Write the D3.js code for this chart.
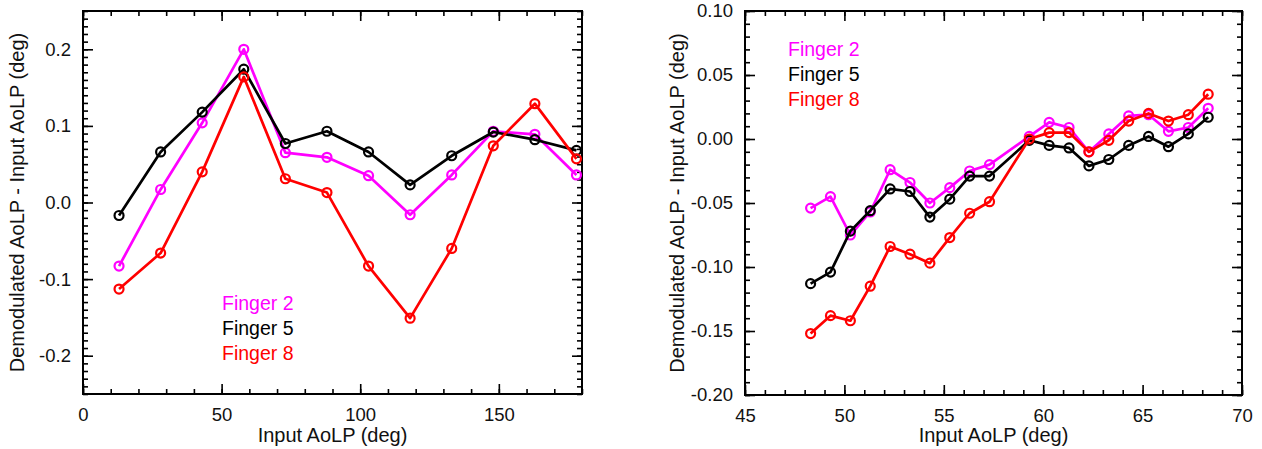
<!DOCTYPE html>
<html>
<head>
<meta charset="utf-8">
<script src="https://cdn.jsdelivr.net/npm/d3@7"></script>
<style>
  body { margin: 0; background: #fff; }
  svg { display: block; font-family: "Liberation Sans", Arial, Helvetica, sans-serif; }
  .tick text { fill: #111; }
</style>
</head>
<body>
<svg id="chart" width="1262" height="449"></svg>
<script>
// left panel : full range of input AoLP
const leftX = [13, 28, 43, 58, 73, 88, 103, 118, 133, 148, 163, 178]
const leftF2 = [-0.083, 0.017, 0.104, 0.200, 0.065, 0.059, 0.035, -0.016, 0.036, 0.093, 0.089, 0.036]
const leftF5 = [-0.017, 0.066, 0.118, 0.174, 0.077, 0.093, 0.066, 0.023, 0.061, 0.092, 0.082, 0.068]
const leftF8 = [-0.113, -0.066, 0.040, 0.164, 0.031, 0.013, -0.083, -0.151, -0.060, 0.074, 0.129, 0.057]
const leftXTicks = [0, 50, 100, 150]
const leftYTicks = [-0.2, -0.1, 0.0, 0.1, 0.2]

// right panel : zoom around 60 deg
const rightX = [48.3, 49.3, 50.3, 51.3, 52.3, 53.3, 54.3, 55.3, 56.3, 57.3,
                59.3, 60.3, 61.3, 62.3, 63.3, 64.3, 65.3, 66.3, 67.3, 68.3]
const rightF2 = [-0.054, -0.045, -0.075, -0.057, -0.024, -0.034, -0.050, -0.038, -0.025, -0.020,
                 0.002, 0.013, 0.009, -0.010, 0.004, 0.018, 0.019, 0.006, 0.009, 0.024]
const rightF5 = [-0.113, -0.104, -0.072, -0.056, -0.039, -0.041, -0.061, -0.047, -0.029, -0.029,
                 -0.001, -0.005, -0.007, -0.021, -0.016, -0.005, 0.002, -0.006, 0.004, 0.017]
const rightF8 = [-0.152, -0.138, -0.142, -0.115, -0.084, -0.090, -0.097, -0.077, -0.058, -0.049,
                 0.000, 0.005, 0.005, -0.010, -0.001, 0.014, 0.020, 0.014, 0.019, 0.035]
const rightXTicks = [45, 50, 55, 60, 65, 70]
const rightYTicks = [-0.20, -0.15, -0.10, -0.05, 0.00, 0.05, 0.10]

const names = ["Finger 2", "Finger 5", "Finger 8"]
const colors = ["#ff00ff", "#000000", "#ff0000"]

const svg = d3.select("#chart")

function drawPanel(p) {
    let x = d3.scaleLinear().domain(p.xDom).range([p.x0, p.x1])
    let y = d3.scaleLinear().domain(p.yDom).range([p.y1, p.y0])
    let g = svg.append("g")

    let xMinor = d3.range(p.xDom[0], p.xDom[1] + 1e-9, p.xStep).map(v => +v.toFixed(4))
    let yMinor = d3.range(p.yDom[0], p.yDom[1] + 1e-9, p.yStep).map(v => +v.toFixed(4))

    // ticks on all four sides, pointing inward, labels only bottom and left
    const sides = [
        [d3.axisBottom, `translate(0,${p.y1})`, false, true],
        [d3.axisTop, `translate(0,${p.y0})`, false, false],
        [d3.axisLeft, `translate(${p.x0},0)`, true, true],
        [d3.axisRight, `translate(${p.x1},0)`, true, false]
    ]
    sides.forEach(([mk, tr, vert, labelled]) => {
        let sc = vert ? y : x
        g.append("g").attr("transform", tr)
            .call(mk(sc).tickValues(vert ? yMinor : xMinor).tickSize(-5).tickFormat(""))
        let fmt = labelled ? (vert ? (d => d.toFixed(p.yDec)) : (d => d)) : ""
        g.append("g").attr("transform", tr)
            .call(mk(sc).tickValues(vert ? p.yTicks : p.xTicks).tickSize(-10)
                .tickPadding(vert ? 12 : 14).tickFormat(fmt))
    })
    g.selectAll(".domain").remove()
    g.selectAll(".tick text").attr("font-size", 18.5)
    g.selectAll(".tick line").attr("stroke", "#000").attr("stroke-width", 1.6)

    g.append("rect")
        .attr("x", p.x0).attr("y", p.y0)
        .attr("width", p.x1 - p.x0).attr("height", p.y1 - p.y0)
        .attr("fill", "none").attr("stroke", "#000").attr("stroke-width", 2)

    // axis titles
    g.append("text")
        .attr("x", (p.x0 + p.x1) / 2).attr("y", 442)
        .attr("text-anchor", "middle").attr("font-size", 20).attr("fill", "#111")
        .text("Input AoLP (deg)")
    g.append("text")
        .attr("transform", `translate(${p.titleX},${(p.y0 + p.y1) / 2}) rotate(-90)`)
        .attr("text-anchor", "middle").attr("font-size", 20).attr("fill", "#111")
        .text("Demodulated AoLP - Input AoLP (deg)")

    // series
    let line = d3.line().x(d => x(d[0])).y(d => y(d[1]))
    p.series.forEach((vals, k) => {
        let pts = p.xs.map((v, j) => [v, vals[j]])
        g.append("path").datum(pts)
            .attr("d", line)
            .attr("fill", "none").attr("stroke", colors[k]).attr("stroke-width", 2.7)
            .attr("stroke-linejoin", "round")
        g.selectAll(null).data(pts).enter().append("circle")
            .attr("cx", d => x(d[0])).attr("cy", d => y(d[1]))
            .attr("r", 4.5)
            .attr("fill", "none").attr("stroke", colors[k]).attr("stroke-width", 2.2)
    })

    // legend
    names.forEach((n, k) => {
        g.append("text")
            .attr("x", p.legX).attr("y", p.legY + k * 25)
            .attr("font-size", 19.5).attr("fill", colors[k])
            .text(n)
    })
}

drawPanel({
    x0: 83, x1: 582, y0: 11, y1: 394,
    xDom: [0, 180], yDom: [-0.25, 0.25], xStep: 10, yStep: 0.01, yDec: 1,
    xTicks: leftXTicks, yTicks: leftYTicks,
    xs: leftX, series: [leftF2, leftF5, leftF8],
    titleX: 24, legX: 222, legY: 310
})

drawPanel({
    x0: 745, x1: 1242, y0: 11, y1: 395,
    xDom: [45, 70], yDom: [-0.20, 0.10], xStep: 1, yStep: 0.01, yDec: 2,
    xTicks: rightXTicks, yTicks: rightYTicks,
    xs: rightX, series: [rightF2, rightF5, rightF8],
    titleX: 684, legX: 788, legY: 56
})
</script>
</body>
</html>
